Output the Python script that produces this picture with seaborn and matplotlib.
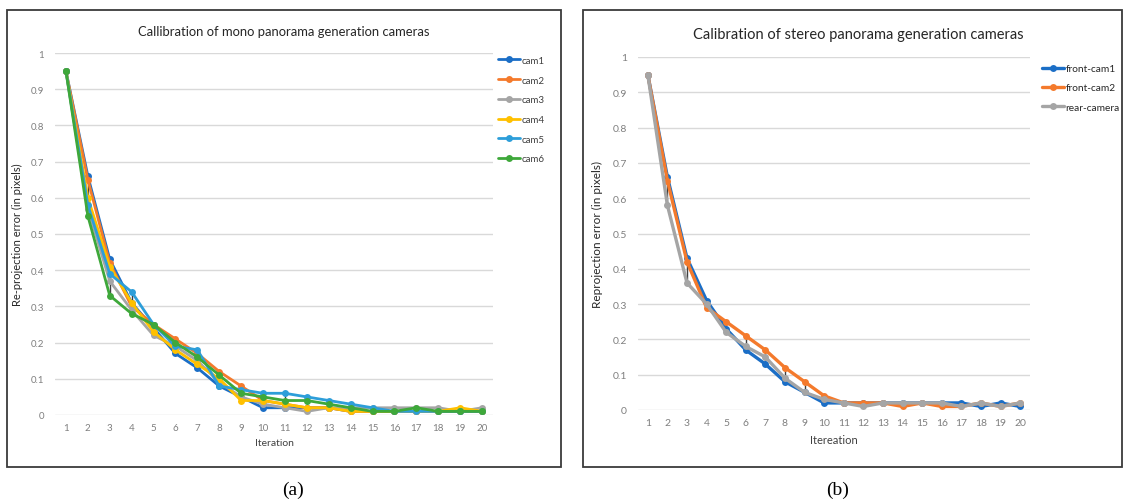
import numpy as np
import pandas as pd
import matplotlib
matplotlib.use("Agg")
import matplotlib.pyplot as plt
from matplotlib.patches import Rectangle
import seaborn as sns

# ---------------- data ----------------
iterations = list(range(1, 21))

cam1 = [0.95, 0.66, 0.43, 0.31, 0.24, 0.17, 0.13, 0.08, 0.05, 0.02, 0.02, 0.02, 0.02, 0.01, 0.01, 0.01, 0.01, 0.01, 0.01, 0.01]
cam2 = [0.95, 0.65, 0.42, 0.30, 0.25, 0.21, 0.17, 0.12, 0.08, 0.04, 0.03, 0.02, 0.02, 0.01, 0.01, 0.01, 0.01, 0.01, 0.01, 0.01]
cam3 = [0.95, 0.57, 0.37, 0.29, 0.22, 0.19, 0.15, 0.09, 0.05, 0.03, 0.02, 0.01, 0.02, 0.02, 0.02, 0.02, 0.02, 0.02, 0.01, 0.02]
cam4 = [0.95, 0.60, 0.41, 0.31, 0.23, 0.18, 0.14, 0.10, 0.04, 0.04, 0.03, 0.02, 0.02, 0.01, 0.01, 0.01, 0.01, 0.01, 0.02, 0.01]
cam5 = [0.95, 0.58, 0.39, 0.34, 0.25, 0.19, 0.18, 0.08, 0.07, 0.06, 0.06, 0.05, 0.04, 0.03, 0.02, 0.01, 0.01, 0.01, 0.01, 0.01]
cam6 = [0.95, 0.55, 0.33, 0.28, 0.25, 0.20, 0.16, 0.11, 0.06, 0.05, 0.04, 0.04, 0.03, 0.02, 0.01, 0.01, 0.02, 0.01, 0.01, 0.01]
mono_names = ["cam1", "cam2", "cam3", "cam4", "cam5", "cam6"]
mono_series = [cam1, cam2, cam3, cam4, cam5, cam6]

front_cam1 = [0.95, 0.66, 0.43, 0.31, 0.23, 0.17, 0.13, 0.08, 0.05, 0.02, 0.02, 0.02, 0.02, 0.02, 0.02, 0.02, 0.02, 0.01, 0.02, 0.01]
front_cam2 = [0.95, 0.65, 0.42, 0.29, 0.25, 0.21, 0.17, 0.12, 0.08, 0.04, 0.02, 0.02, 0.02, 0.01, 0.02, 0.01, 0.01, 0.02, 0.01, 0.02]
rear_camera = [0.95, 0.58, 0.36, 0.30, 0.22, 0.18, 0.15, 0.09, 0.05, 0.03, 0.02, 0.01, 0.02, 0.02, 0.02, 0.02, 0.01, 0.02, 0.01, 0.02]
stereo_names = ["front-cam1", "front-cam2", "rear-camera"]
stereo_series = [front_cam1, front_cam2, rear_camera]

y_ticks = [0, 0.1, 0.2, 0.3, 0.4, 0.5, 0.6, 0.7, 0.8, 0.9, 1]
y_tick_labels = ["0", "0.1", "0.2", "0.3", "0.4", "0.5", "0.6", "0.7", "0.8", "0.9", "1"]

mono_colors = ["#1b6ec6", "#f47a2c", "#a5a5a5", "#ffc000", "#2d9ed9", "#3ea83a"]
stereo_colors = ["#1b6ec6", "#f47a2c", "#a5a5a5"]

# ---------------- figure ----------------
sns.set_theme(style="white")
plt.rcParams["font.family"] = ["Lato", "DejaVu Sans"]

W, H = 1127, 502
fig = plt.figure(figsize=(W / 100, H / 100), dpi=100)


def ax_rect(l, t, r, b):
    return [l / W, (H - b) / H, (r - l) / W, (b - t) / H]


def long_df(names, series):
    rows = []
    for n, s in zip(names, series):
        for it, v in zip(iterations, s):
            rows.append({"Iteration": it, "err": v, "cam": n})
    return pd.DataFrame(rows)


def draw(ax, names, series, colors, tick_fs, lw):
    df = long_df(names, series)
    # high-low lines (like Excel)
    arr = np.array(series)
    ax.vlines(iterations[1:], arr.min(axis=0)[1:], arr.max(axis=0)[1:],
              color="#404040", lw=1.0, zorder=1)
    sns.lineplot(data=df, x="Iteration", y="err", hue="cam", palette=colors,
                 marker="o", markersize=5, markeredgewidth=0, linewidth=lw,
                 ax=ax, zorder=2)
    ax.set_xlim(0.5, 20.5)
    ax.set_ylim(0, 1)
    ax.set_xticks(iterations)
    ax.set_xticklabels([str(i) for i in iterations], fontsize=tick_fs, color="#7f7f7f")
    ax.set_yticks(y_ticks)
    ax.set_yticklabels(y_tick_labels, fontsize=tick_fs, color="#7f7f7f")
    ax.grid(axis="y", color="#d9d9d9", lw=1.0)
    ax.grid(axis="x", visible=False)
    for s in ax.spines.values():
        s.set_visible(False)
    ax.tick_params(axis="both", length=0)
    ax.tick_params(axis="y", pad=8)
    ax.tick_params(axis="x", pad=6)
    ax.set_facecolor("none")


# panel frames
for (l, t, r, b) in [(7, 11, 561, 468), (583, 11, 1122, 468)]:
    fig.patches.append(Rectangle((l / W, (H - b) / H), (r - l) / W, (b - t) / H,
                                 transform=fig.transFigure, fill=False,
                                 edgecolor="#3a3a3a", lw=1.3))

# left chart
ax1 = fig.add_axes(ax_rect(55, 54, 493, 416))
draw(ax1, mono_names, mono_series, mono_colors, 7, 2.0)
ax1.set_xlabel("Iteration", fontsize=7.5, color="#404040", labelpad=4)
ax1.set_ylabel("Re-projection error (in pixels)", fontsize=8, color="#262626", labelpad=5)
h, lab = ax1.get_legend_handles_labels()
ax1.legend(h, lab, loc="upper left", bbox_to_anchor=(494 / W, (H - 53) / H),
           bbox_transform=fig.transFigure, frameon=False, fontsize=7,
           handlelength=2.3, handletextpad=0.1, labelspacing=1.1,
           labelcolor="#404040", borderaxespad=0)
fig.text(284 / W, (H - 32) / H, "Callibration of mono panorama generation cameras",
         ha="center", va="center", fontsize=9.4, color="#262626")

# right chart
ax2 = fig.add_axes(ax_rect(638, 58, 1030, 411))
draw(ax2, stereo_names, stereo_series, stereo_colors, 7.5, 2.4)
ax2.set_xlabel("Itereation", fontsize=8, color="#404040", labelpad=5)
ax2.set_ylabel("Reprojection error (in pixels)", fontsize=8.5, color="#262626", labelpad=7)
h, lab = ax2.get_legend_handles_labels()
ax2.legend(h, lab, loc="upper left", bbox_to_anchor=(1038 / W, (H - 61) / H),
           bbox_transform=fig.transFigure, frameon=False, fontsize=7.3,
           handlelength=2.2, handletextpad=0.1, labelspacing=1.0,
           labelcolor="#262626", borderaxespad=0)
fig.text(858 / W, (H - 35) / H, "Calibration of stereo panorama generation cameras",
         ha="center", va="center", fontsize=10.5, color="#262626")

# captions
fig.text(293 / W, (H - 490) / H, "(a)", ha="center", va="center", fontsize=14,
         family=["Liberation Serif", "DejaVu Serif"], color="black")
fig.text(838 / W, (H - 490) / H, "(b)", ha="center", va="center", fontsize=14,
         family=["Liberation Serif", "DejaVu Serif"], color="black")

fig.savefig("out.png", dpi=100, facecolor="white")
